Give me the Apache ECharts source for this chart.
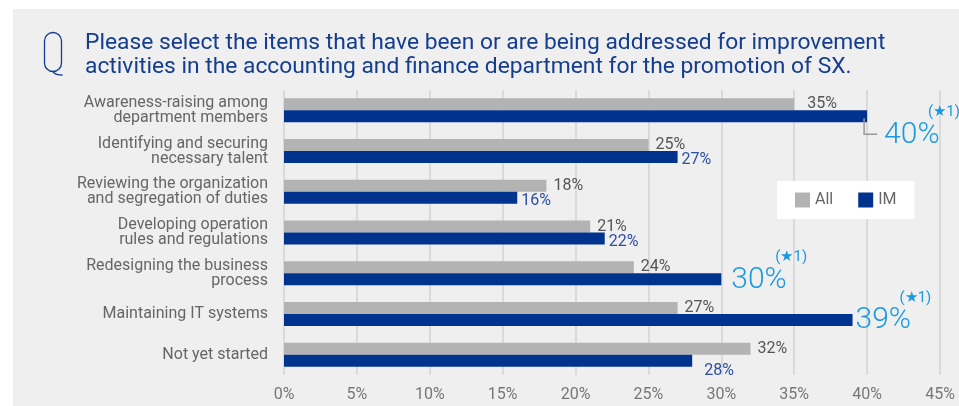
<!DOCTYPE html>
<html>
<head>
<meta charset="utf-8">
<script src="https://cdn.jsdelivr.net/npm/echarts@6/dist/echarts.min.js"></script>
<style>
  html, body { margin: 0; padding: 0; background: #ffffff; }
  #wrap { position: relative; width: 959px; height: 406px; overflow: hidden; background: #ffffff; }
  #panel { position: absolute; left: 13px; top: 9px; right: 0; bottom: 0; background: #efefef; }
  #chart { position: absolute; left: 0; top: 0; width: 959px; height: 406px; }
</style>
</head>
<body>
<div id="wrap">
  <div id="panel"></div>
  <div id="chart"></div>
</div>
<script>
// Survey answers: share of respondents (%) per improvement activity
const categories = [
  'Awareness-raising among\ndepartment members',
  'Identifying and securing\nnecessary talent',
  'Reviewing the organization\nand segregation of duties',
  'Developing operation\nrules and regulations',
  'Redesigning the business\nprocess',
  'Maintaining IT systems',
  'Not yet started'
];
const allValues = [35, 25, 18, 21, 24, 27, 32];
const imValues  = [40, 27, 16, 22, 30, 39, 28];
// IM answers called out with note (★1)
const imFlagged = [true, false, false, false, true, true, false];
const flagNote = '(★1)';
const seriesNames = ['All', 'IM'];

const GRAY = '#b3b3b3';
const NAVY = '#00338d';
const SKY = '#1a9be0';
const TITLE_BLUE = '#143d8f';
const FONT = 'Roboto, "Liberation Sans", sans-serif';

const chart = echarts.init(document.getElementById('chart'), null, { renderer: 'canvas' });

const flaggedRich = {
  s: { fontSize: 15, color: SKY, lineHeight: 16, padding: [0, 0, 0, 44], fontFamily: FONT },
  b: { fontSize: 30, color: SKY, lineHeight: 30, fontWeight: 300, fontFamily: FONT }
};

const allData = allValues.map(function (v, i) {
  if (i === 0) return { value: v, label: { distance: 13 } };
  return v;
});

const imData = imValues.map(function (v, i) {
  if (imFlagged[i]) {
    const item = {
      value: v,
      label: {
        formatter: '{s|' + flagNote + '}\n{b|' + v + '%}',
        rich: flaggedRich,
        distance: 10,
        offset: [0, -7]
      }
    };
    if (i === 0) { item.label.distance = 17; item.label.offset = [0, 11]; }
    if (i === 5) { item.label.distance = 3; }
    return item;
  }
  if (i === imValues.length - 1) return { value: v, label: { offset: [8, 10] } };
  return v;
});

const option = {
  animation: false,
  backgroundColor: 'transparent',
  textStyle: { fontFamily: FONT },
  title: {
    text: 'Please select the items that have been or are being addressed for improvement\nactivities in the accounting and finance department for the promotion of SX.',
    left: 85,
    top: 31,
    padding: 0,
    textStyle: { fontSize: 22.8, lineHeight: 24, color: TITLE_BLUE, fontWeight: 'normal', fontFamily: FONT }
  },
  legend: {
    data: seriesNames,
    left: 777,
    top: 181,
    padding: [11, 18, 11, 18],
    itemWidth: 15,
    itemHeight: 15,
    itemGap: 25,
    icon: 'rect',
    backgroundColor: '#ffffff',
    textStyle: { fontSize: 16, color: '#666666', fontFamily: FONT }
  },
  grid: { left: 284, right: 19, top: 90, height: 285, containLabel: false },
  xAxis: {
    type: 'value',
    min: 0,
    max: 45,
    interval: 5,
    axisLine: { show: false },
    axisTick: { show: false },
    axisLabel: { formatter: '{value}%', fontSize: 16, color: '#777777', margin: 12, fontFamily: FONT },
    splitLine: { show: true, lineStyle: { color: '#dadada', width: 2 } }
  },
  yAxis: {
    type: 'category',
    inverse: true,
    data: categories,
    axisLine: { show: false },
    axisTick: { show: false },
    axisLabel: { fontSize: 16, lineHeight: 15, color: '#666666', margin: 16, align: 'right', fontFamily: FONT }
  },
  series: [
    {
      name: seriesNames[0],
      type: 'bar',
      data: allData,
      barWidth: 12,
      barGap: '0%',
      itemStyle: { color: GRAY },
      label: {
        show: true,
        position: 'right',
        distance: 7,
        formatter: '{c}%',
        fontSize: 16,
        color: '#555555',
        fontFamily: FONT
      }
    },
    {
      name: seriesNames[1],
      type: 'bar',
      data: imData,
      barWidth: 12,
      barGap: '0%',
      itemStyle: { color: NAVY },
      label: {
        show: true,
        position: 'right',
        distance: 4,
        offset: [0, 3],
        formatter: '{c}%',
        fontSize: 16,
        color: '#2c4fa3',
        fontFamily: FONT
      }
    }
  ],
  graphic: [
    {
      id: 'qbody',
      type: 'rect',
      shape: { x: 44.5, y: 32.5, width: 17, height: 39, r: 8.5 },
      style: { fill: 'none', stroke: TITLE_BLUE, lineWidth: 1.3 }
    },
    {
      id: 'qtail',
      type: 'bezierCurve',
      shape: { x1: 53, y1: 71.5, cpx1: 54, cpy1: 74, cpx2: 56, cpy2: 75, x2: 62.5, y2: 75 },
      style: { fill: 'none', stroke: TITLE_BLUE, lineWidth: 1.3 }
    }
  ]
};

chart.setOption(option);

// Leader line from the first IM bar to its moved label
const tip = chart.convertToPixel({ gridIndex: 0 }, [imValues[0], 0]);
chart.setOption({
  graphic: [
    {
      id: 'leader',
      type: 'polyline',
      shape: { points: [[tip[0] - 3, tip[1] + 8], [tip[0] - 3, tip[1] + 24], [tip[0] + 10, tip[1] + 24]] },
      style: { fill: 'none', stroke: '#9a9a9a', lineWidth: 1.5 },
      z: 10
    }
  ]
});
</script>
</body>
</html>
